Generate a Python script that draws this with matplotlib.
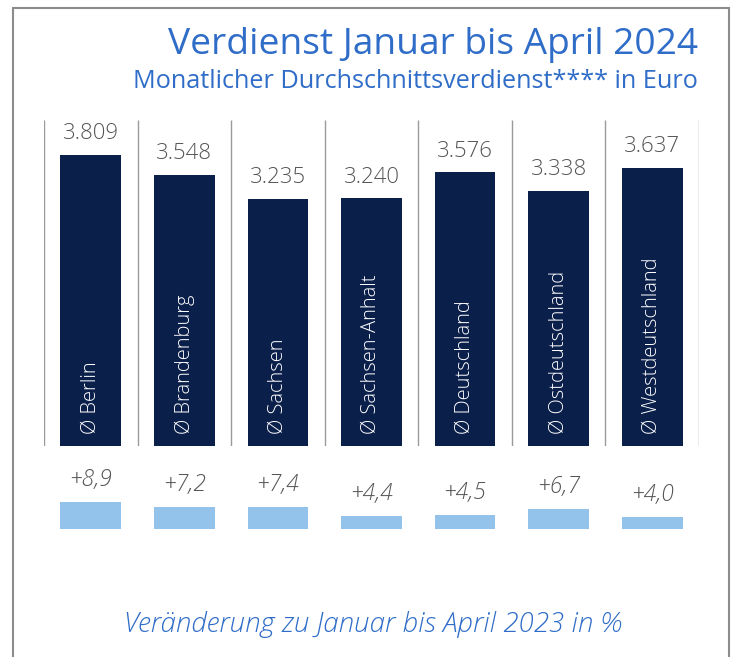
import matplotlib
matplotlib.use("Agg")
import matplotlib.pyplot as plt
from matplotlib.patches import Rectangle

regionen = ["Ø Berlin", "Ø Brandenburg", "Ø Sachsen", "Ø Sachsen-Anhalt",
            "Ø Deutschland", "Ø Ostdeutschland", "Ø Westdeutschland"]
verdienst = [3809, 3548, 3235, 3240, 3576, 3338, 3637]
veraenderung = [8.9, 7.2, 7.4, 4.4, 4.5, 6.7, 4.0]

NAVY = "#0b1f4b"
HELLBLAU = "#93c2eb"
BLAU = "#2f6dc8"
GRAU = "#555555"
LINIE = "#9a9a9a"

plt.rcParams["font.family"] = ["Open Sans", "DejaVu Sans"]

W, H = 731, 657
fig = plt.figure(figsize=(W / 100, H / 100), dpi=100)


def px_axes(x0, y0, x1, y1):
    # pixel box (top-left origin) -> figure axes
    return fig.add_axes([x0 / W, 1 - y1 / H, (x1 - x0) / W, (y1 - y0) / H])


# Rahmen
fig.patches.append(Rectangle((13 / W, -0.1), (729 - 13) / W, 1.1 - 8 / H,
                             transform=fig.transFigure, fill=False,
                             edgecolor="#8c8c8c", linewidth=1.5))

fig.text(698 / W, 1 - 54 / H, "Verdienst Januar bis April 2024", ha="right",
         va="baseline", fontsize=26.7, color=BLAU)
fig.text(698 / W, 1 - 88 / H, "Monatlicher Durchschnittsverdienst**** in Euro",
         ha="right", va="baseline", fontsize=18.2, color=BLAU)

x = list(range(len(regionen)))

# oberes Diagramm
ax = px_axes(44, 120, 699, 446)
ax.set_xlim(-0.5, len(regionen) - 0.5)
ymax = 326 / 0.0765
ax.set_ylim(0, ymax)
ax.bar(x, verdienst, width=0.65, color=NAVY, zorder=3)
ax.vlines([i - 0.5 for i in range(len(regionen) + 1)], 0, ymax,
          color=LINIE, linewidth=1)
for i, v in enumerate(verdienst):
    ax.annotate(f"{v:,}".replace(",", "."), xy=(i, v), xytext=(0, 11),
                textcoords="offset points", ha="center", va="baseline",
                fontsize=16, color=GRAU, fontweight="light")
    ax.annotate(regionen[i], xy=(i, 0), xytext=(0, 9), textcoords="offset points",
                rotation=90, ha="center", va="bottom", fontsize=14.5, color="white",
                fontweight="light")
ax.axis("off")

# unteres Diagramm
ax2 = px_axes(44, 460, 699, 529)
ax2.set_xlim(-0.5, len(regionen) - 0.5)
ax2.set_ylim(0, 69 / 3.03)
ax2.bar(x, veraenderung, width=0.65, color=HELLBLAU, zorder=3)
for i, v in enumerate(veraenderung):
    ax2.annotate(f"+{v:.1f}".replace(".", ","), xy=(i, v), xytext=(0, 11.5),
                 textcoords="offset points", ha="center", va="baseline",
                 fontsize=16.5, color=GRAU, style="italic", fontweight="light")
ax2.axis("off")

fig.text(373 / W, 1 - 625 / H, "Veränderung zu Januar bis April 2023 in %",
         ha="center", va="center", fontsize=20, color=BLAU, style="italic",
         fontweight="light")

fig.savefig("out.png", dpi=100, facecolor="white")
